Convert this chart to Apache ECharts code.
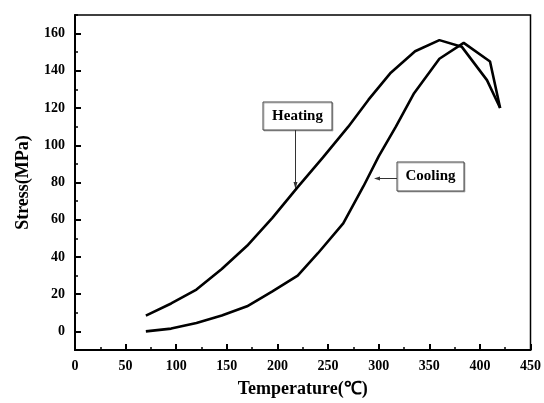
<!DOCTYPE html>
<html>
<head>
<meta charset="utf-8">
<script src="https://cdn.jsdelivr.net/npm/echarts@6/dist/echarts.min.js"></script>
<style>
  html, body { margin: 0; padding: 0; background: #fff; }
  #main { width: 544px; height: 403px; }
</style>
</head>
<body>
<div id="main"></div>
<script>
var chart = echarts.init(document.getElementById('main'));
var serif = "'Liberation Serif', 'Times New Roman', serif";

// Heating curve (temperature, stress)
var heatT = [70, 95, 120, 145, 170, 195, 220, 245, 270, 290, 312, 336, 360, 382, 407, 420];
var heatS = [8.5, 15, 22.5, 33.5, 46, 61, 77.5, 93.5, 110, 124.5, 139, 150.5, 156.5, 153, 135, 120];
// Cooling curve
var coolT = [70, 95, 120, 145, 170, 195, 220, 240, 265, 285, 300, 317, 335, 360, 384, 410, 420];
var coolS = [0, 1.5, 4.5, 8.5, 13.5, 21.5, 30, 42, 58, 78, 94, 110, 128, 146.5, 155, 145, 120];

var xMajor = [0, 50, 100, 150, 200, 250, 300, 350, 400, 450];
var xMinor = [25, 75, 125, 175, 225, 275, 325, 375, 425];
var yMajor = [0, 20, 40, 60, 80, 100, 120, 140, 160];
var yMinor = [-10, 10, 30, 50, 70, 90, 110, 130, 150, 170];

function pairs(xs, ys) {
    return xs.map(function (x, i) { return [x, ys[i]]; });
}

var labelStyle = { color: '#000', fontFamily: serif, fontWeight: 'bold', fontSize: 14 };

option = {
    animation: false,
    grid: {
        left: 75, right: 10, top: 15, bottom: 51,
        show: true, borderColor: '#000', borderWidth: 1.5
    },
    xAxis: [{
        type: 'value', min: 0, max: 450, position: 'bottom',
        axisLine: { show: true, onZero: false, lineStyle: { color: '#000', width: 2 } },
        axisTick: { inside: true, length: 6, customValues: xMajor, lineStyle: { color: '#000', width: 2 } },
        axisLabel: Object.assign({ customValues: xMajor, margin: 9 }, labelStyle),
        splitLine: { show: false },
        name: 'Temperature(℃)',
        nameLocation: 'middle',
        nameGap: 30,
        nameTextStyle: { color: '#000', fontFamily: serif, fontWeight: 'bold', fontSize: 18 }
    }, {
        type: 'value', min: 0, max: 450, position: 'bottom',
        axisLine: { show: false, onZero: false },
        axisTick: { inside: true, length: 3, customValues: xMinor, lineStyle: { color: '#000', width: 1.5 } },
        axisLabel: { show: false },
        splitLine: { show: false }
    }],
    yAxis: [{
        type: 'value', min: -10, max: 170, position: 'left',
        axisLine: { show: true, onZero: false, lineStyle: { color: '#000', width: 2 } },
        axisTick: { inside: true, length: 6, customValues: yMajor, lineStyle: { color: '#000', width: 2 } },
        axisLabel: Object.assign({ customValues: yMajor, margin: 10 }, labelStyle),
        splitLine: { show: false },
        name: 'Stress(MPa)',
        nameLocation: 'middle',
        nameGap: 43,
        nameTextStyle: { color: '#000', fontFamily: serif, fontWeight: 'bold', fontSize: 18 }
    }, {
        type: 'value', min: -10, max: 170, position: 'left',
        axisLine: { show: false, onZero: false },
        axisTick: { inside: true, length: 3, customValues: yMinor, lineStyle: { color: '#000', width: 1.5 } },
        axisLabel: { show: false },
        splitLine: { show: false }
    }],
    series: [{
        name: 'Heating',
        type: 'line',
        data: pairs(heatT, heatS),
        showSymbol: false,
        lineStyle: { color: '#000', width: 2.6 }
    }, {
        name: 'Cooling',
        type: 'line',
        data: pairs(coolT, coolS),
        showSymbol: false,
        lineStyle: { color: '#000', width: 2.6 }
    }],
    graphic: [
        // Heating label box + arrow
        { type: 'rect', shape: { x: 263, y: 102, width: 69, height: 28 },
          style: { fill: '#fff', stroke: '#444', lineWidth: 1, shadowColor: 'rgba(0,0,0,0.25)', shadowOffsetX: 1, shadowOffsetY: 1 } },
        { type: 'text', x: 297.5, y: 116,
          style: { text: 'Heating', fill: '#000', font: 'bold 15px ' + serif, align: 'center', verticalAlign: 'middle' } },
        { type: 'line', shape: { x1: 295.5, y1: 130, x2: 295.5, y2: 184 }, style: { stroke: '#333', lineWidth: 1 } },
        { type: 'polygon', shape: { points: [[293.5, 182], [297.5, 182], [295.5, 189]] }, style: { fill: '#333' } },
        // Cooling label box + arrow
        { type: 'rect', shape: { x: 397, y: 162, width: 67, height: 29 },
          style: { fill: '#fff', stroke: '#444', lineWidth: 1, shadowColor: 'rgba(0,0,0,0.25)', shadowOffsetX: 1, shadowOffsetY: 1 } },
        { type: 'text', x: 430.5, y: 176.5,
          style: { text: 'Cooling', fill: '#000', font: 'bold 15px ' + serif, align: 'center', verticalAlign: 'middle' } },
        { type: 'line', shape: { x1: 397, y1: 178.5, x2: 378, y2: 178.5 }, style: { stroke: '#333', lineWidth: 1 } },
        { type: 'polygon', shape: { points: [[380, 176.5], [380, 180.5], [374, 178.5]] }, style: { fill: '#333' } }
    ]
};

chart.setOption(option);
</script>
</body>
</html>
